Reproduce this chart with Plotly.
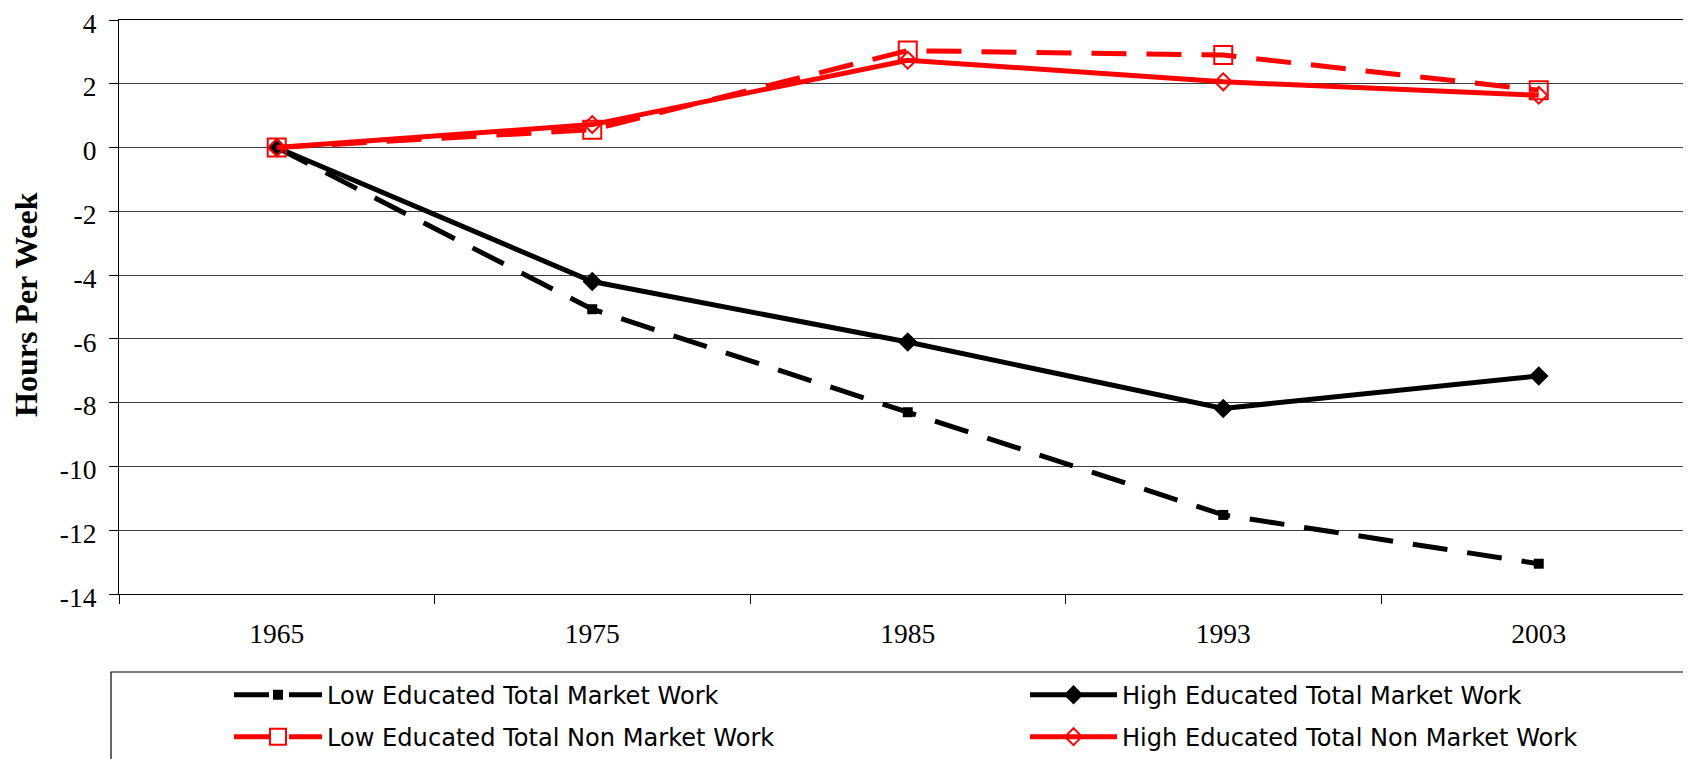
import plotly.graph_objects as go

# ---- data ----
years = ["1965", "1975", "1985", "1993", "2003"]
low_market = [0, -5.07, -8.30, -11.52, -13.05]
high_market = [0, -4.20, -6.10, -8.18, -7.16]
low_nonmarket = [0, 0.56, 3.04, 2.90, 1.80]
high_nonmarket = [0, 0.72, 2.74, 2.06, 1.64]
y_ticks = list(range(-14, 5, 2))
y_ticktext = [str(v) for v in y_ticks]

names = [
    "Low Educated Total Market Work",
    "High Educated Total Market Work",
    "Low Educated Total Non Market Work",
    "High Educated Total Non Market Work",
]

# page body has an 8px default margin; layout is expressed in figure coords
W, H = 1691, 759
ML, MT, MB = 111, 12, 173
PW = W - ML
PH = H - MT - MB
CAT_W = 315.5  # pixel width of one category band

def px_x(fx):
    return (fx - ML) / PW

def px_y(fy):
    return (H - MB - fy) / PH

fig = go.Figure()

fig.add_trace(go.Scatter(
    x=years, y=low_market, name=names[0], mode="lines+markers",
    line=dict(color="black", width=5, dash="35px,20px"),
    marker=dict(symbol="square", size=10, color="black"),
    legend="legend",
))
fig.add_trace(go.Scatter(
    x=years, y=high_market, name=names[1], mode="lines+markers",
    line=dict(color="black", width=5),
    marker=dict(symbol="diamond", size=15, color="black"),
    legend="legend2",
))
fig.add_trace(go.Scatter(
    x=years, y=low_nonmarket, name=names[2], mode="lines+markers",
    line=dict(color="#ff0000", width=5, dash="35px,20px"),
    marker=dict(symbol="square-open", size=18, color="#ff0000",
                line=dict(width=2, color="#ff0000")),
    legend="legend3",
))
fig.add_trace(go.Scatter(
    x=years, y=high_nonmarket, name=names[3], mode="lines+markers",
    line=dict(color="#ff0000", width=5),
    marker=dict(symbol="diamond-open", size=13, color="#ff0000",
                line=dict(width=2, color="#ff0000")),
    legend="legend4",
))

legend_font = dict(family="DejaVu Sans, Arial, sans-serif", size=24.1, color="black")
serif = "Liberation Serif, Times New Roman, serif"

def leg(fx, fy, itemw):
    return dict(
        xref="container", yref="container",
        x=fx / W, y=1 - fy / H, xanchor="left", yanchor="middle",
        bgcolor="rgba(0,0,0,0)", borderwidth=0,
        font=legend_font, itemwidth=itemw, itemsizing="trace",
        orientation="v",
    )

fig.update_layout(
    width=W, height=H,
    margin=dict(l=ML, r=0, t=MT, b=MB, autoexpand=False),
    paper_bgcolor="white", plot_bgcolor="white",
    showlegend=True,
    legend=leg(221, 687, 88),
    legend2=leg(1017, 687, 87),
    legend3=leg(221, 729, 88),
    legend4=leg(1017, 729, 87),
    xaxis=dict(
        type="category", range=[-0.5, -0.5 + PW / CAT_W],
        tickson="boundaries", ticks="outside", ticklen=9, tickcolor="black",
        showgrid=False, showline=True, linecolor="black", linewidth=1,
        mirror=True,
        tickfont=dict(family=serif, size=27.5, color="black"),
        ticklabelstandoff=15, tickangle=0, automargin=False,
    ),
    yaxis=dict(
        range=[-14, 4], tickvals=y_ticks, ticktext=y_ticktext,
        ticks="outside", ticklen=9, tickcolor="black",
        showgrid=True, gridcolor="#3c3c3c", gridwidth=1,
        zeroline=False, showline=True, linecolor="black", linewidth=1,
        tickfont=dict(family=serif, size=27.5, color="black"),
        ticklabelstandoff=7, ticklabelshift=3,
        automargin=False, ticklabeloverflow="allow",
    ),
    annotations=[dict(
        text="Hours Per Week", textangle=-90,
        xref="paper", yref="paper", x=px_x(18), y=px_y(297),
        xanchor="center", yanchor="middle", showarrow=False,
        font=dict(family=serif, size=32, color="black", weight="bold"),
    )],
    shapes=[dict(
        type="rect", xref="paper", yref="paper",
        x0=px_x(103), x1=1.02,
        y0=px_y(800), y1=px_y(664),
        line=dict(color="black", width=1.2), fillcolor="rgba(0,0,0,0)",
        layer="above",
    )],
)

fig.write_html("out.html")
